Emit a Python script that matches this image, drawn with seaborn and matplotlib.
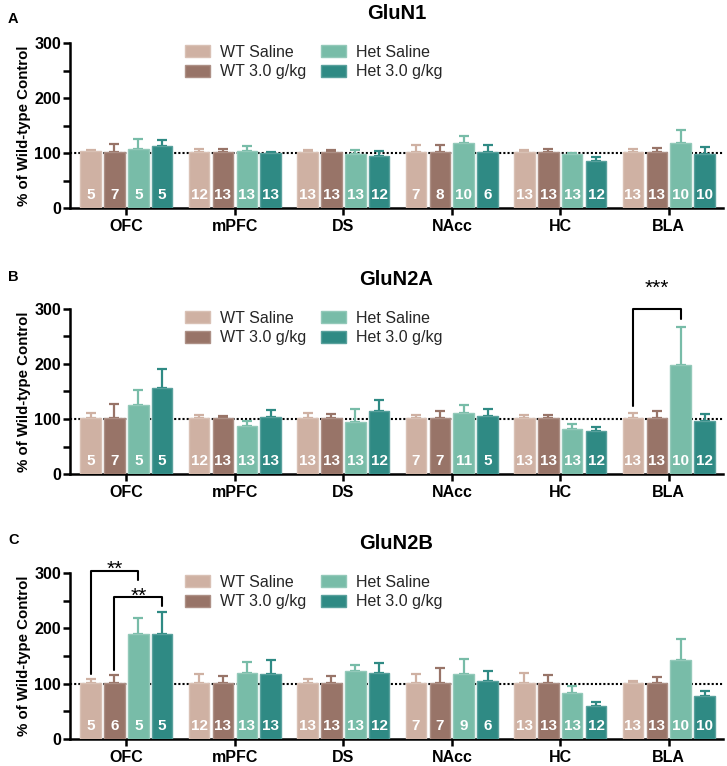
import numpy as np
import pandas as pd
import matplotlib
matplotlib.use("Agg")
import matplotlib.pyplot as plt
import matplotlib.colors as mcolors
from matplotlib.patches import Patch
from matplotlib.ticker import MultipleLocator
import seaborn as sns

sns.set_theme(style="ticks")
plt.rcParams["font.family"] = ["Liberation Sans", "DejaVu Sans"]

regions = ["OFC", "mPFC", "DS", "NAcc", "HC", "BLA"]
groups = ["WT Saline", "WT 3.0 g/kg", "Het Saline", "Het 3.0 g/kg"]
colors = ["#cfb1a3", "#987468", "#78bca8", "#2f8a84"]

# ---- GluN1 ----
n1_mean = {
    "WT Saline":    [103, 101, 101, 101, 101, 101],
    "WT 3.0 g/kg":  [101, 101, 102, 101, 101, 101],
    "Het Saline":   [107, 104, 99, 119, 98, 119],
    "Het 3.0 g/kg": [112, 100, 94, 101, 86, 99],
}
n1_sem = {
    "WT Saline":    [2, 7, 4, 13, 5, 6],
    "WT 3.0 g/kg":  [16, 6, 3, 13, 6, 8],
    "Het Saline":   [18, 8, 6, 12, 2, 23],
    "Het 3.0 g/kg": [12, 2, 9, 14, 6, 12],
}
n1_n = {
    "WT Saline":    [5, 12, 13, 7, 13, 13],
    "WT 3.0 g/kg":  [7, 13, 13, 8, 13, 13],
    "Het Saline":   [5, 13, 13, 10, 13, 10],
    "Het 3.0 g/kg": [5, 13, 12, 6, 12, 10],
}

# ---- GluN2A ----
n2a_mean = {
    "WT Saline":    [101, 101, 101, 101, 101, 101],
    "WT 3.0 g/kg":  [101, 101, 101, 101, 101, 101],
    "Het Saline":   [125, 87, 94, 111, 81, 198],
    "Het 3.0 g/kg": [157, 104, 114, 106, 78, 96],
}
n2a_sem = {
    "WT Saline":    [10, 6, 10, 6, 6, 10],
    "WT 3.0 g/kg":  [26, 5, 8, 14, 7, 13],
    "Het Saline":   [27, 10, 24, 14, 10, 70],
    "Het 3.0 g/kg": [33, 13, 20, 12, 7, 14],
}
n2a_n = {
    "WT Saline":    [5, 12, 13, 7, 13, 13],
    "WT 3.0 g/kg":  [7, 13, 13, 7, 13, 13],
    "Het Saline":   [5, 13, 13, 11, 13, 10],
    "Het 3.0 g/kg": [5, 13, 12, 5, 12, 12],
}

# ---- GluN2B ----
n2b_mean = {
    "WT Saline":    [101, 101, 101, 101, 101, 101],
    "WT 3.0 g/kg":  [101, 101, 101, 101, 101, 101],
    "Het Saline":   [189, 120, 123, 117, 83, 143],
    "Het 3.0 g/kg": [189, 117, 119, 104, 60, 78],
}
n2b_sem = {
    "WT Saline":    [7, 16, 7, 17, 18, 4],
    "WT 3.0 g/kg":  [15, 12, 12, 27, 15, 11],
    "Het Saline":   [30, 19, 11, 28, 13, 37],
    "Het 3.0 g/kg": [40, 26, 18, 19, 6, 8],
}
n2b_n = {
    "WT Saline":    [5, 12, 13, 7, 13, 13],
    "WT 3.0 g/kg":  [6, 13, 13, 7, 13, 13],
    "Het Saline":   [5, 13, 13, 9, 13, 10],
    "Het 3.0 g/kg": [5, 13, 12, 6, 12, 10],
}

# significance brackets: (region, group_left, group_right, y_top, y_left_end, y_right_end, text, text_y)
n1_sig = []
n2a_sig = [("BLA", 0, 2, 300, 123, 282, "***", 327)]
n2b_sig = [("OFC", 0, 2, 304, 118, 287, "**", 296),
           ("OFC", 1, 3, 257, 125, 240, "**", 247)]

W, H = 727, 766
fig = plt.figure(figsize=(W / 100, H / 100), dpi=100)

panels = [
    ("A", "GluN1", 43, 208, 19, n1_mean, n1_sem, n1_n, n1_sig),
    ("B", "GluN2A", 309, 474, 277, n2a_mean, n2a_sem, n2a_n, n2a_sig),
    ("C", "GluN2B", 573, 739, 540, n2b_mean, n2b_sem, n2b_n, n2b_sig),
]

edge_colors = [tuple(np.array(mcolors.to_rgb(c)) * 0.8 + 0.2) for c in colors]

for letter, title, top, bot, ly, means, sems, ns, sigs in panels:
    ax = fig.add_axes([70 / W, 1 - bot / H, (723 - 70) / W, (bot - top) / H])
    rows = []
    for g in groups:
        for i, r in enumerate(regions):
            rows.append({"region": r, "group": g, "value": means[g][i]})
    df = pd.DataFrame(rows)
    sns.barplot(data=df, x="region", y="value", hue="group", order=regions,
                hue_order=groups, palette=colors, saturation=1, width=0.88,
                gap=0.14, errorbar=None, legend=False, ax=ax, zorder=3,
                linewidth=1.0)
    ax.axhline(100, color="black", lw=1.5, ls=(0, (1, 1)), zorder=1)

    bars = sorted([p for p in ax.patches], key=lambda p: p.get_x())
    centers = {}
    for idx, p in enumerate(bars):
        ri, gi = idx // 4, idx % 4
        g = groups[gi]
        p.set_edgecolor(edge_colors[gi])
        xc = p.get_x() + p.get_width() / 2
        h = p.get_height()
        centers[(regions[ri], gi)] = xc
        ax.errorbar([xc], [h], yerr=[[0], [sems[g][ri]]], fmt="none",
                    ecolor=colors[gi], elinewidth=1.6, capsize=3.6,
                    capthick=1.6, zorder=2)
        ax.text(xc, 23, str(ns[g][ri]), ha="center", va="center",
                color="white", fontsize=11, fontweight="bold", zorder=5)

    for region, gl, gr, ytop, yl, yr, txt, ty in sigs:
        x1, x2 = centers[(region, gl)], centers[(region, gr)]
        ax.plot([x1, x1, x2, x2], [yl, ytop, ytop, yr], color="black",
                lw=1.5, clip_on=False, zorder=6)
        ax.text((x1 + x2) / 2, ty, txt, ha="center", va="baseline",
                fontsize=15, color="black", clip_on=False)

    ax.set_xlim(-0.52, 5.5)
    ax.set_ylim(0, 300)
    ax.yaxis.set_major_locator(MultipleLocator(100))
    ax.yaxis.set_minor_locator(MultipleLocator(50))
    sns.despine(ax=ax)
    for s in ["left", "bottom"]:
        ax.spines[s].set_linewidth(1.8)
        ax.spines[s].set_color("black")
    ax.tick_params(axis="y", which="both", length=5, width=1.8, pad=1.5,
                   labelsize=11.5, color="black")
    ax.tick_params(axis="x", length=5, width=1.8, pad=3, labelsize=11.5,
                   color="black")
    for lab in ax.get_xticklabels() + ax.get_yticklabels():
        lab.set_fontweight("bold")
        lab.set_color("black")
    ax.set_xlabel("")
    ax.set_ylabel("% of Wild-type Control", fontsize=10.8, fontweight="bold",
                  color="black")
    ax.yaxis.set_label_coords(-(70 - 31) / 653, 0.5)
    ax.set_title(title, fontsize=14.5, fontweight="bold", pad=17, color="black")

    handles = [Patch(facecolor=colors[i], edgecolor=edge_colors[i], linewidth=1.0)
               for i in range(4)]
    ax.legend(handles, groups, ncol=2,
              loc="upper left", bbox_to_anchor=((185 - 70) / 653, 0.99),
              frameon=False, fontsize=11.5, handlelength=1.55, handleheight=0.85,
              handletextpad=0.65, columnspacing=0.9, labelspacing=0.3,
              borderpad=0, borderaxespad=0)

    fig.text(8 / W, 1 - ly / H, letter, fontsize=10.5, fontweight="bold",
             va="center", ha="left", color="black")

fig.savefig("out.png", dpi=100)
